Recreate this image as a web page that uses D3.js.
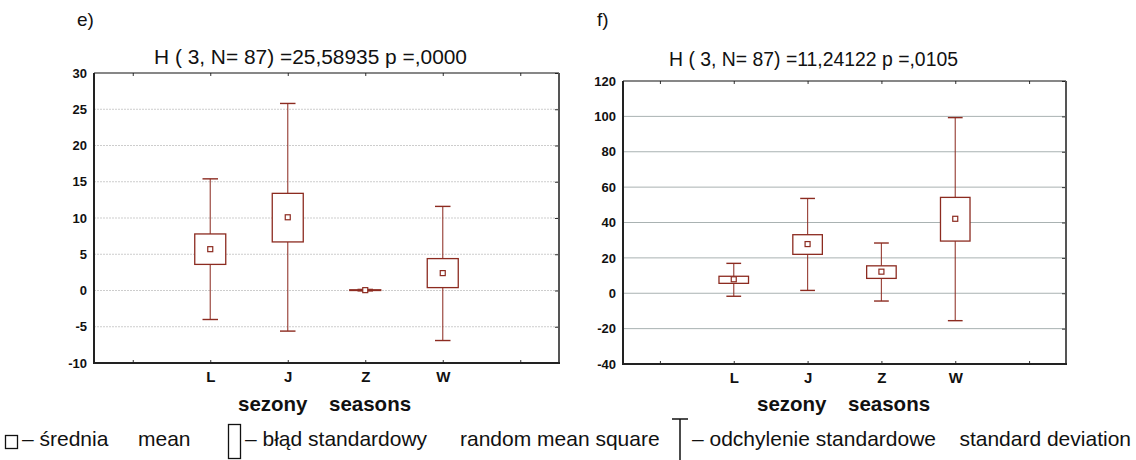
<!DOCTYPE html>
<html>
<head>
<meta charset="utf-8">
<script src="https://cdn.jsdelivr.net/npm/d3@7"></script>
<style>
  body { margin: 0; background: #fff; }
  svg { display: block; font-family: "Liberation Sans", Arial, sans-serif; }
</style>
</head>
<body>
<svg id="chart" width="1136" height="460"></svg>
<script>
// ---- data ----
const categories = ["L", "J", "Z", "W"];
const slots = ["_a", "L", "J", "Z", "W", "_b"];

const meanE   = [5.7, 10.1, 0.05, 2.4];
const seLowE  = [3.6, 6.7, 0.0, 0.4];
const seHighE = [7.8, 13.4, 0.1, 4.4];
const sdLowE  = [-4.0, -5.6, -0.05, -6.9];
const sdHighE = [15.4, 25.8, 0.15, 11.6];
const ticksE  = [-10, -5, 0, 5, 10, 15, 20, 25, 30];

const meanF   = [7.9, 27.8, 12.2, 42.1];
const seLowF  = [5.6, 22.0, 8.4, 29.5];
const seHighF = [9.6, 33.1, 15.5, 54.2];
const sdLowF  = [-1.7, 1.6, -4.4, -15.5];
const sdHighF = [16.9, 53.6, 28.4, 99.3];
const ticksF  = [-40, -20, 0, 20, 40, 60, 80, 100, 120];

const titleE = "H ( 3, N= 87) =25,58935 p =,0000";
const titleF = "H ( 3, N= 87) =11,24122 p =,0105";

const svg = d3.select("#chart");
const RED = "#8c2b20";
const FONT = "Liberation Sans, Arial, sans-serif";

function panel(opts) {
  const {x0, x1, y0, y1, domain, ticks, mean, seLow, seHigh, sdLow, sdHigh,
         gridSolid, label, labelPos, title, titlePos, titleLen, xTitle} = opts;
  const x = d3.scalePoint().domain(slots).range([x0, x1]).padding(0.5);
  const y = d3.scaleLinear().domain(domain).range([y1, y0]);
  const step = x.step();
  const g = svg.append("g");

  // grid
  g.append("g").selectAll("line").data(ticks.filter(t => t !== domain[0] && t !== domain[1]))
    .join("line")
    .attr("x1", x0).attr("x2", x1)
    .attr("y1", d => y(d)).attr("y2", d => y(d))
    .attr("stroke", gridSolid ? "#a9b2b2" : "#cdcdcd")
    .attr("stroke-width", gridSolid ? 1 : 1.2)
    .attr("stroke-dasharray", gridSolid ? null : "2,1");

  // left axis labels (hyphen minus as in the original)
  const ya = g.append("g").attr("transform", `translate(${x0},0)`)
    .call(d3.axisLeft(y).tickValues(ticks).tickSize(0).tickPadding(7)
      .tickFormat(d => String(d)));
  ya.select(".domain").remove();
  ya.selectAll("text").attr("font-size", 13).attr("font-weight", "bold")
    .attr("fill", "#111").attr("font-family", FONT);

  // right inner ticks
  g.append("g").attr("transform", `translate(${x1},0)`)
    .call(d3.axisLeft(y).tickValues(ticks).tickSize(4).tickFormat(""))
    .call(s => s.select(".domain").remove())
    .selectAll("line").attr("stroke", "#333");

  // top inner ticks
  g.append("g").attr("transform", `translate(0,${y0})`)
    .call(d3.axisBottom(x).tickSize(3).tickFormat(""))
    .call(s => s.select(".domain").remove())
    .selectAll("line").attr("stroke", "#333");

  // bottom inner ticks
  const xb = g.append("g").attr("transform", `translate(0,${y1})`)
    .call(d3.axisTop(x).tickSize(3).tickFormat(""));
  xb.select(".domain").remove();
  xb.selectAll("line").attr("stroke", "#333");

  // bottom category labels
  const xl = g.append("g").attr("transform", `translate(0,${y1})`)
    .call(d3.axisBottom(x).tickSize(0).tickPadding(8)
      .tickFormat(d => d.startsWith("_") ? "" : d));
  xl.select(".domain").remove();
  xl.selectAll("text").attr("font-size", 15).attr("font-weight", "bold")
    .attr("fill", "#111").attr("font-family", FONT);

  // frame
  g.append("line").attr("x1", x0).attr("x2", x1).attr("y1", y0).attr("y2", y0)
    .attr("stroke", "#111").attr("stroke-width", 1.2);
  g.append("line").attr("x1", x1).attr("x2", x1).attr("y1", y0).attr("y2", y1)
    .attr("stroke", "#555").attr("stroke-width", 2);
  g.append("line").attr("x1", x0).attr("x2", x0).attr("y1", y0).attr("y2", y1 + 1)
    .attr("stroke", "#222").attr("stroke-width", 2);
  g.append("line").attr("x1", x0 - 1).attr("x2", x1 + 1).attr("y1", y1).attr("y2", y1)
    .attr("stroke", "#222").attr("stroke-width", 2);

  // boxes
  const boxW = step * 0.4, capW = step * 0.2, m = 5;
  const items = categories.map((c, i) => ({c, mean: mean[i], seL: seLow[i], seH: seHigh[i], sdL: sdLow[i], sdH: sdHigh[i]}));
  const b = g.append("g").selectAll("g").data(items).join("g");
  b.append("line").attr("x1", d => x(d.c)).attr("x2", d => x(d.c))
    .attr("y1", d => y(d.sdH)).attr("y2", d => y(d.seH))
    .attr("stroke", RED).attr("stroke-width", 1.2).attr("opacity", 0.85);
  b.append("line").attr("x1", d => x(d.c)).attr("x2", d => x(d.c))
    .attr("y1", d => y(d.seL)).attr("y2", d => y(d.sdL))
    .attr("stroke", RED).attr("stroke-width", 1.2).attr("opacity", 0.85);
  b.append("line").attr("x1", d => x(d.c) - capW / 2).attr("x2", d => x(d.c) + capW / 2)
    .attr("y1", d => y(d.sdH)).attr("y2", d => y(d.sdH))
    .attr("stroke", RED).attr("stroke-width", 1.4);
  b.append("line").attr("x1", d => x(d.c) - capW / 2).attr("x2", d => x(d.c) + capW / 2)
    .attr("y1", d => y(d.sdL)).attr("y2", d => y(d.sdL))
    .attr("stroke", RED).attr("stroke-width", 1.4);
  b.append("rect").attr("x", d => x(d.c) - boxW / 2).attr("width", boxW)
    .attr("y", d => y(d.seH)).attr("height", d => Math.max(0.5, y(d.seL) - y(d.seH)))
    .attr("fill", "#fff").attr("stroke", RED).attr("stroke-width", 1.3);
  b.append("rect").attr("x", d => x(d.c) - m / 2).attr("width", m)
    .attr("y", d => y(d.mean) - m / 2).attr("height", m)
    .attr("fill", "#fff").attr("stroke", RED).attr("stroke-width", 1.2);

  // panel label and title
  svg.append("text").attr("x", labelPos[0]).attr("y", labelPos[1])
    .attr("font-size", 19).attr("fill", "#111").text(label);
  svg.append("text").attr("x", titlePos[0]).attr("y", titlePos[1])
    .attr("font-size", 20).attr("fill", "#111")
    .attr("textLength", titleLen).attr("lengthAdjust", "spacingAndGlyphs")
    .text(title);

  // x title
  svg.append("text").attr("x", xTitle[0]).attr("y", xTitle[1])
    .attr("font-size", 20.5).attr("font-weight", "bold").attr("fill", "#111")
    .text("sezony");
  svg.append("text").attr("x", xTitle[0] + 91).attr("y", xTitle[1])
    .attr("font-size", 20.5).attr("font-weight", "bold").attr("fill", "#111")
    .text("seasons");
}

panel({x0: 94, x1: 559, y0: 73, y1: 363, domain: [-10, 30], ticks: ticksE,
  mean: meanE, seLow: seLowE, seHigh: seHighE, sdLow: sdLowE, sdHigh: sdHighE,
  gridSolid: false, label: "e)", labelPos: [77, 26], title: titleE,
  titlePos: [154, 64], titleLen: 313, xTitle: [238, 411]});

panel({x0: 623, x1: 1066, y0: 81, y1: 364, domain: [-40, 120], ticks: ticksF,
  mean: meanF, seLow: seLowF, seHigh: seHighF, sdLow: sdLowF, sdHigh: sdHighF,
  gridSolid: true, label: "f)", labelPos: [597, 26], title: titleF,
  titlePos: [669, 66], titleLen: 289, xTitle: [757, 411]});

// ---- legend ----
const lg = svg.append("g");
const LY = 446, LF = 21;
function ltext(x, t, anchor) {
  lg.append("text").attr("x", x).attr("y", LY).attr("font-size", LF).attr("fill", "#111")
    .attr("text-anchor", anchor || "start").text(t);
}
lg.append("rect").attr("x", 5.5).attr("y", 435.5).attr("width", 12).attr("height", 13)
  .attr("fill", "none").attr("stroke", "#111").attr("stroke-width", 1.3);
ltext(22, "– średnia");
ltext(138, "mean");
lg.append("rect").attr("x", 228.5).attr("y", 424.5).attr("width", 12).attr("height", 34)
  .attr("fill", "none").attr("stroke", "#111").attr("stroke-width", 1.3);
ltext(245, "– błąd standardowy");
ltext(460, "random mean square");
lg.append("line").attr("x1", 672).attr("x2", 688).attr("y1", 419).attr("y2", 419)
  .attr("stroke", "#111").attr("stroke-width", 1.5);
lg.append("line").attr("x1", 680).attr("x2", 680).attr("y1", 419).attr("y2", 460)
  .attr("stroke", "#111").attr("stroke-width", 1.5);
ltext(692, "– odchylenie standardowe");
ltext(1131, "standard deviation", "end");
</script>
</body>
</html>
